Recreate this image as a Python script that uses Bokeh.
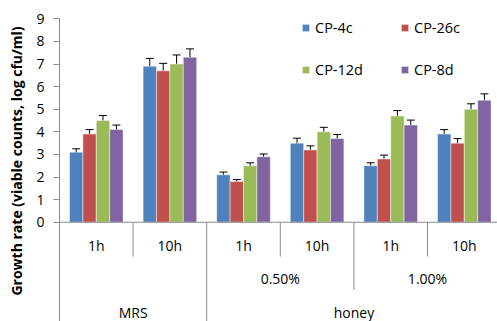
from bokeh.plotting import figure
from bokeh.models import (ColumnDataSource, Range1d, FixedTicker, Span, Whisker,
                          TeeHead, Legend, LegendItem)
from bokeh.transform import dodge
from bokeh.core.properties import value
from bokeh.embed import file_html
from bokeh.resources import INLINE

# ---- data ----
times = ["1h", "10h", "1h", "10h", "1h", "10h"]
concs = ["", "", "0.50%", "0.50%", "1.00%", "1.00%"]
media = ["MRS", "MRS", "honey", "honey", "honey", "honey"]
series = ["CP-4c", "CP-26c", "CP-12d", "CP-8d"]
cp4c = [3.1, 6.9, 2.1, 3.5, 2.5, 3.9]
cp4c_err = [0.15, 0.35, 0.12, 0.22, 0.13, 0.20]
cp26c = [3.9, 6.7, 1.8, 3.2, 2.8, 3.5]
cp26c_err = [0.20, 0.33, 0.09, 0.18, 0.17, 0.20]
cp12d = [4.5, 7.0, 2.5, 4.0, 4.7, 5.0]
cp12d_err = [0.22, 0.40, 0.13, 0.20, 0.24, 0.24]
cp8d = [4.1, 7.3, 2.9, 3.7, 4.3, 5.4]
cp8d_err = [0.20, 0.37, 0.12, 0.18, 0.22, 0.28]
y_ticks = [0, 1, 2, 3, 4, 5, 6, 7, 8, 9]
y_title = "Growth rate (viable counts, log cfu/ml)"

values = [cp4c, cp26c, cp12d, cp8d]
errors = [cp4c_err, cp26c_err, cp12d_err, cp8d_err]
colors = ["#4F81BD", "#C0504D", "#9BBB59", "#8064A2"]

FONT = "Open Sans"
TXT = "#000000"
GRAY = "#8C8C8C"

idx = list(range(len(times)))

Y_BOTTOM = -4.39
p = figure(width=497, height=321, output_backend="svg", toolbar_location=None,
           x_range=Range1d(-0.5, 5.451), y_range=Range1d(Y_BOTTOM, 9.81),
           min_border_left=59, min_border_right=0, min_border_top=0,
           min_border_bottom=0)
p.outline_line_color = None
p.xgrid.visible = False
p.ygrid.visible = False
p.xaxis.visible = False

ya = p.yaxis[0]
ya.ticker = FixedTicker(ticks=y_ticks)
ya.bounds = (Y_BOTTOM, 9)
ya.axis_line_color = GRAY
ya.major_tick_line_color = GRAY
ya.major_tick_out = 6
ya.major_tick_in = 0
ya.minor_tick_line_color = None
ya.major_label_text_font = FONT
ya.major_label_text_font_size = "14px"
ya.major_label_text_color = TXT
ya.major_label_standoff = 9
ya.axis_label = y_title
ya.axis_label_text_font = FONT
ya.axis_label_text_font_style = "bold"
ya.axis_label_text_font_size = "14px"
ya.axis_label_text_color = TXT
ya.axis_label_standoff = 7

# x axis line at zero
p.add_layout(Span(location=0, dimension="width", line_color=GRAY, line_width=1))

bw = 0.182
offsets = [-1.5 * bw, -0.5 * bw, 0.5 * bw, 1.5 * bw]
items = []
for name, vals, errs, col, off in zip(series, values, errors, colors, offsets):
    src = ColumnDataSource(dict(
        x=idx, top=vals,
        upper=[v + e for v, e in zip(vals, errs)],
        lower=[v - e for v, e in zip(vals, errs)],
    ))
    r = p.vbar(x=dodge("x", off, range=p.x_range), top="top", width=bw, bottom=0,
               source=src, fill_color=col, line_color="white", line_alpha=0.45,
               line_width=1)
    w = Whisker(base=dodge("x", off, range=p.x_range), upper="upper", lower="lower",
                source=src, line_color="black", line_width=1,
                upper_head=TeeHead(size=8, line_color="black", line_width=1),
                lower_head=TeeHead(size=8, line_color="black", line_width=1))
    p.add_layout(w)
    items.append(LegendItem(label=name, renderers=[r]))

# category separators
short_y, mid_y, full_y = -1.52, -2.98, Y_BOTTOM
sx, sy0, sy1 = [], [], []
for i in range(len(times)):
    if i + 1 < len(times):
        if media[i] != media[i + 1]:
            depth = full_y
        elif concs[i] != concs[i + 1]:
            depth = mid_y
        else:
            depth = short_y
    else:
        depth = full_y
    sx.append(i + 0.5)
    sy0.append(0)
    sy1.append(depth)
p.segment(x0=sx, y0=sy0, x1=sx, y1=sy1, line_color=GRAY, line_width=1)

# level-1 labels
p.text(x=idx, y=[-1.03] * len(idx), text=times, text_font=value(FONT),
       text_font_size="14px", text_color=TXT, text_align="center",
       text_baseline="middle")

# level-2 labels
sub_names, sub_x = [], []
for c in dict.fromkeys(concs):
    if c:
        members = [i for i, cc in enumerate(concs) if cc == c]
        sub_names.append(c)
        sub_x.append(sum(members) / len(members))
p.text(x=sub_x, y=[-2.5] * len(sub_x), text=sub_names, text_font=value(FONT),
       text_font_size="14px", text_color=TXT, text_align="center",
       text_baseline="middle")

# level-3 labels
grp_names, grp_x = [], []
for g in dict.fromkeys(media):
    members = [i for i, gg in enumerate(media) if gg == g]
    grp_names.append(g)
    grp_x.append(sum(members) / len(members))
p.text(x=grp_x, y=[-4.0] * len(grp_x), text=grp_names, text_font=value(FONT),
       text_font_size="14px", text_color=TXT, text_align="center",
       text_baseline="middle")

legend = Legend(items=items, orientation="horizontal", ncols=2,
                location=(242, 242), padding=0, margin=0, spacing=22,
                glyph_width=9, glyph_height=9, label_standoff=5, label_width=63,
                label_height=20, label_text_font=FONT, label_text_font_size="14.5px",
                label_text_color=TXT, border_line_alpha=0,
                background_fill_alpha=0)
p.add_layout(legend)

open("out.html", "w").write(file_html(p, INLINE))
